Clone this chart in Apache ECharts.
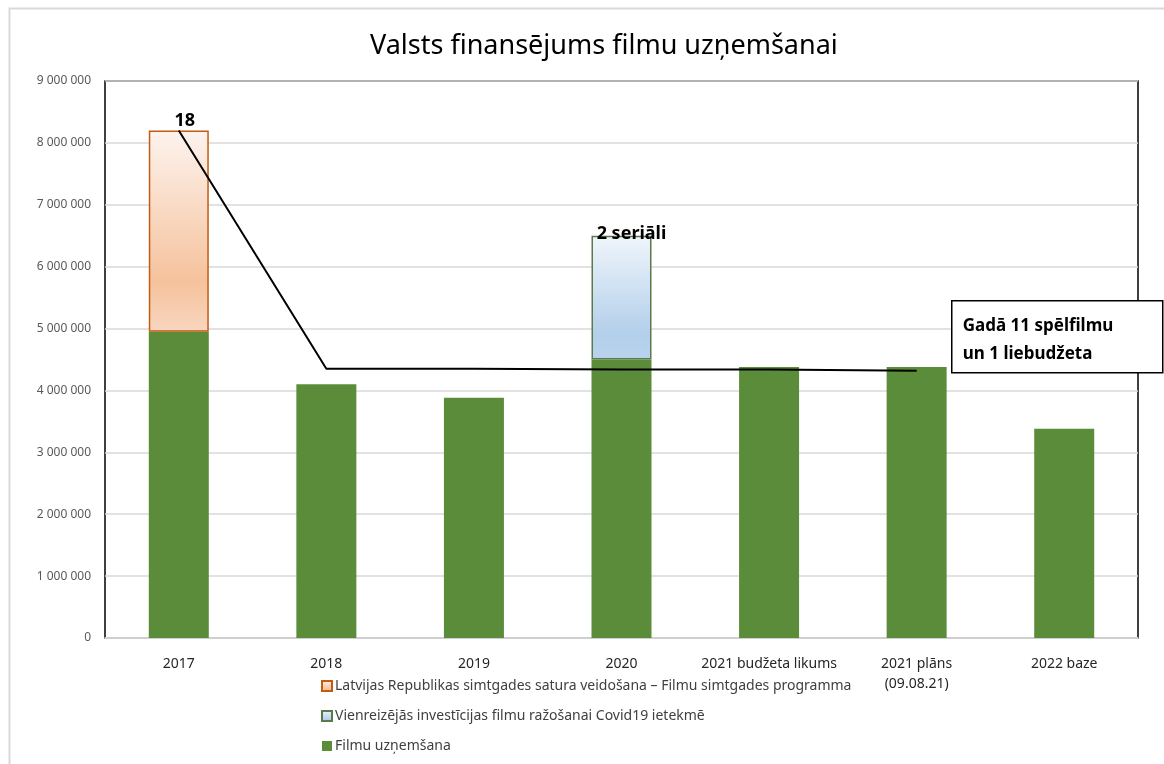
<!DOCTYPE html>
<html>
<head>
<meta charset="utf-8">
<script src="https://cdn.jsdelivr.net/npm/echarts@6/dist/echarts.min.js"></script>
<style>
  html, body { margin: 0; padding: 0; background: #fff; }
  #chart { width: 1164px; height: 764px; }
</style>
</head>
<body>
<div id="chart"></div>
<script>
// gadi / kategorijas
const categories = ['2017', '2018', '2019', '2020', '2021 budžeta likums', '2021 plāns\n(09.08.21)', '2022 baze']
// Filmu uzņemšana
const baseData = [4950000, 4100000, 3880000, 4500000, 4380000, 4380000, 3380000]
// simtgades programma (tikai 2017)
const centenaryData = [3250000, null, null, null, null, null, null]
// Covid19 investīcijas (tikai 2020)
const covidData = [null, null, null, 2000000, null, null, null]
// melnā līnija
const lineData = [8200000, 4350000, 4350000, 4340000, 4340000, 4320000, null]
const yTicks = { min: 0, max: 9000000, interval: 1000000 }

const fontFamily = '"Noto Sans", "Open Sans", sans-serif'
const greenColor = '#5a8c3a'

const chart = echarts.init(document.getElementById('chart'))

const formatNum = v => String(v).replace(/\B(?=(\d{3})+(?!\d))/g, ' ')

const options = {
  animation: false,
  title: {
    text: 'Valsts finansējums filmu uzņemšanai',
    left: 365,
    top: 28,
    textStyle: {
      color: '#000',
      fontWeight: 'normal',
      fontFamily: fontFamily,
      fontSize: 27
    }
  },
  grid: {
    left: 105,
    right: 26,
    top: 81,
    bottom: 126,
    show: true,
    borderColor: '#000',
    borderWidth: 1.5
  },
  legend: {
    orient: 'vertical',
    left: 316,
    top: 674,
    itemWidth: 10,
    itemHeight: 10,
    itemGap: 16,
    icon: 'rect',
    textStyle: {
      color: '#404040',
      fontFamily: fontFamily,
      fontSize: 14,
      padding: [0, 0, 0, -2]
    },
    data: [
      'Latvijas Republikas simtgades satura veidošana – Filmu simtgades programma',
      'Vienreizējās investīcijas filmu ražošanai Covid19 ietekmē',
      'Filmu uzņemšana'
    ]
  },
  xAxis: {
    type: 'category',
    data: categories,
    axisLine: { show: true, lineStyle: { color: '#d9d9d9', width: 1.5 } },
    axisTick: { show: false },
    axisLabel: {
      color: '#262626',
      fontFamily: fontFamily,
      fontSize: 14,
      margin: 16,
      lineHeight: 20,
      interval: 0
    }
  },
  yAxis: {
    type: 'value',
    min: yTicks.min,
    max: yTicks.max,
    interval: yTicks.interval,
    axisLine: { show: false },
    axisTick: { show: false },
    axisLabel: {
      color: '#595959',
      fontFamily: fontFamily,
      fontSize: 12,
      margin: 14,
      formatter: formatNum
    },
    splitLine: { lineStyle: { color: '#d9d9d9', width: 1.5 } }
  },
  series: [
    {
      name: 'Filmu uzņemšana',
      type: 'bar',
      stack: 'total',
      barWidth: 60,
      itemStyle: { color: greenColor },
      data: baseData
    },
    {
      name: 'Latvijas Republikas simtgades satura veidošana – Filmu simtgades programma',
      type: 'bar',
      stack: 'total',
      barWidth: 60,
      itemStyle: {
        color: new echarts.graphic.LinearGradient(0, 0, 0, 1, [
          { offset: 0, color: '#fdf3ee' },
          { offset: 0.75, color: '#f5c29c' },
          { offset: 1, color: '#f8d6c0' }
        ]),
        borderColor: '#c55a11',
        borderWidth: 1.5
      },
      label: {
        show: true,
        position: 'top',
        distance: 1,
        offset: [6, 0],
        formatter: '18',
        color: '#000',
        fontWeight: 'bold',
        fontFamily: fontFamily,
        fontSize: 18
      },
      data: centenaryData
    },
    {
      name: 'Vienreizējās investīcijas filmu ražošanai Covid19 ietekmē',
      type: 'bar',
      stack: 'total',
      barWidth: 60,
      itemStyle: {
        color: new echarts.graphic.LinearGradient(0, 0, 0, 1, [
          { offset: 0, color: '#eff5fb' },
          { offset: 0.8, color: '#b3cfea' },
          { offset: 1, color: '#bad3ec' }
        ]),
        borderColor: '#5b7a4c',
        borderWidth: 1.5
      },
      label: {
        show: true,
        position: 'top',
        distance: 1,
        offset: [10, 8],
        formatter: '2 seriāli',
        color: '#000',
        fontWeight: 'bold',
        fontFamily: fontFamily,
        fontSize: 18
      },
      data: covidData
    },
    {
      name: 'līnija',
      type: 'line',
      symbol: 'none',
      lineStyle: { color: '#000', width: 2 },
      itemStyle: { color: '#000' },
      z: 5,
      data: lineData
    }
  ],
  graphic: [
    {
      type: 'rect',
      left: 7,
      top: 6,
      shape: { width: 1200, height: 800 },
      style: { fill: 'none', stroke: '#d9d9d9', lineWidth: 2 },
      silent: true,
      z: -1
    },
    {
      type: 'group',
      left: 951,
      top: 300,
      children: [
        {
          type: 'rect',
          z: 100,
          shape: { width: 211, height: 72 },
          style: { fill: '#fff', stroke: '#000', lineWidth: 1.5 }
        },
        {
          type: 'text',
          z: 101,
          left: 11,
          top: 11,
          style: {
            text: 'Gadā 11 spēlfilmu\nun 1 liebudžeta',
            fill: '#000',
            font: 'bold 17px "Noto Sans", sans-serif',
            lineHeight: 28
          }
        }
      ]
    }
  ]
}

chart.setOption(options)
</script>
</body>
</html>
